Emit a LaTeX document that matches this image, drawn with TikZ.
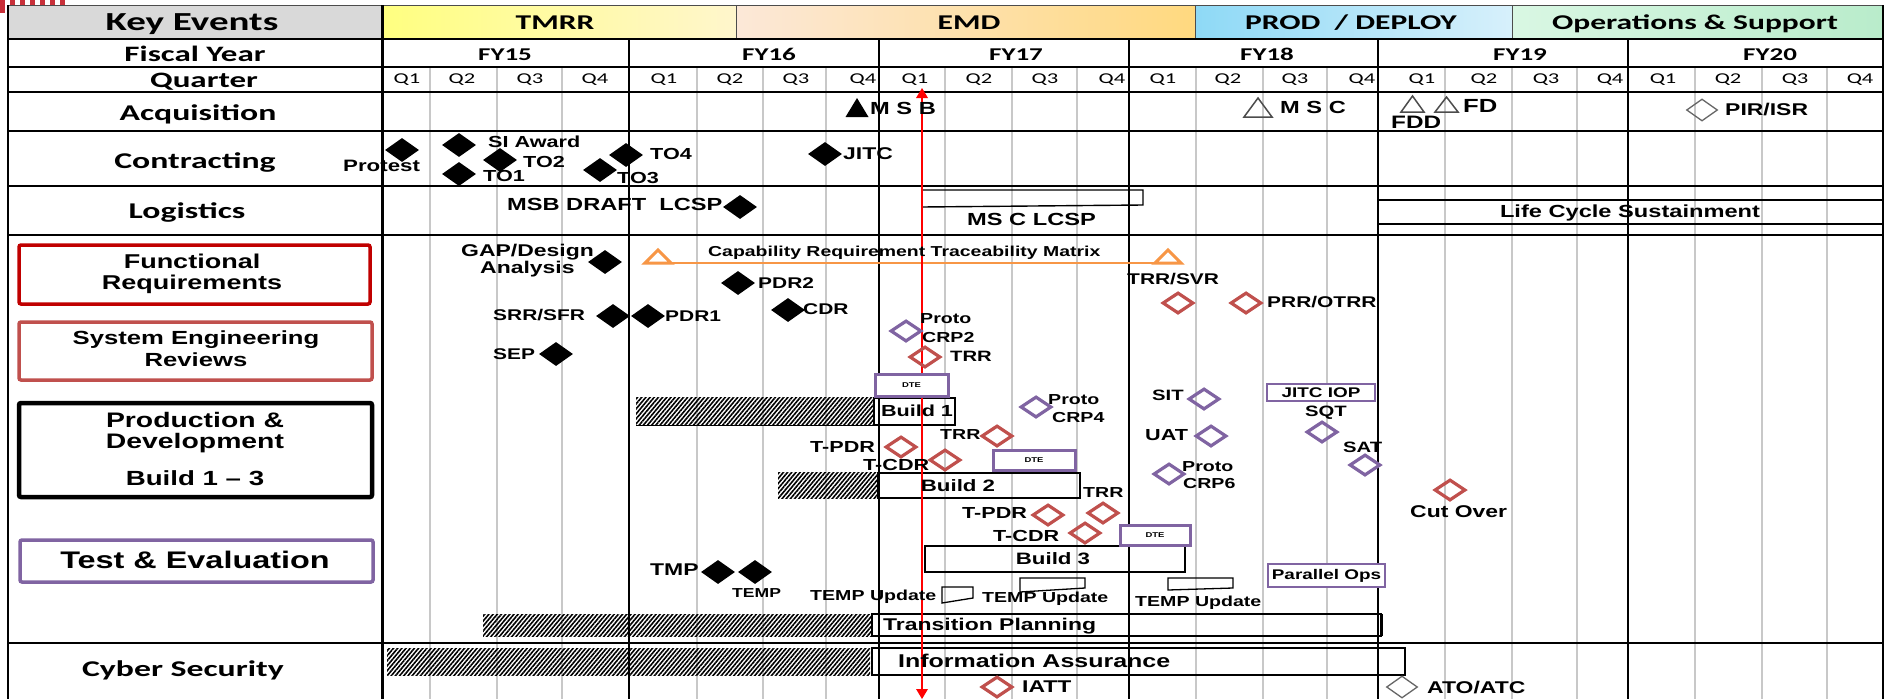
\documentclass[tikz,border=0pt]{standalone}
\usepackage{fontspec}
\setmainfont{Liberation Sans}[FakeStretch=1.35]
\newfontfamily\calb{Carlito}[FakeStretch=1.5]
\usetikzlibrary{shapes.geometric,patterns.meta}
\definecolor{redc}{HTML}{C0504D}
\definecolor{dkred}{HTML}{C00000}
\definecolor{purc}{HTML}{8064A2}
\definecolor{orgc}{HTML}{F79646}
\definecolor{qgray}{HTML}{C8C8C8}
\definecolor{hdrgray}{HTML}{D9D9D9}
\definecolor{tmrrL}{HTML}{FFFF80}
\definecolor{tmrrR}{HTML}{FFF6CC}
\definecolor{emdL}{HTML}{FCE8D8}
\definecolor{emdR}{HTML}{FFD97F}
\definecolor{prodL}{HTML}{8ED9F6}
\definecolor{prodR}{HTML}{D7F0FB}
\definecolor{opsL}{HTML}{D9F7E3}
\definecolor{opsR}{HTML}{B9ECCB}
\definecolor{flagred}{HTML}{C8303A}
\tikzset{
  tl/.style={font=\bfseries\fontsize{#1}{#1}\selectfont, inner sep=0pt, anchor=mid west, yshift=-0.17*#1pt},
  tl/.default=15.5,
  cl/.style={font=\calb\bfseries\fontsize{#1}{#1}\selectfont, inner sep=0pt, anchor=mid, yshift=-0.23*#1pt},
  ql/.style={font=\calb\fontsize{15}{15}\selectfont, inner sep=0pt, anchor=mid, yshift=-2.5pt},
  bd/.style={diamond, fill=black, minimum width=34pt, minimum height=24pt, inner sep=0pt},
  rdm/.style={diamond, draw=redc, line width=3.2pt, minimum width=31pt, minimum height=21pt, inner sep=0pt},
  pdm/.style={diamond, draw=purc, line width=3.2pt, minimum width=31pt, minimum height=21pt, inner sep=0pt},
  gdm/.style={diamond, draw=black!60, line width=1.3pt, minimum width=31pt, minimum height=22pt, inner sep=0pt},
  hatch/.style={pattern={Lines[angle=50,distance=3.2pt,line width=1.6pt]}},
  bx/.style={draw=black, line width=1.4pt},
  dtebox/.style={draw=purc, line width=3pt, fill=white},
  pbox/.style={draw=purc, line width=2pt, fill=white},
  hcell/.style={draw=black!70, line width=1pt},
}
\begin{document}
\begin{tikzpicture}[x=1pt,y=-1pt]
\useasboundingbox (0,0) rectangle (1889,699);
\fill[white] (0,0) rectangle (1889,699);

% ---------- logo remnant ----------
\foreach \i in {0,...,6}
  \fill[flagred] (\i*10,0) rectangle (\i*10+5,13);

% ---------- header ----------
\path[hcell, fill=hdrgray] (8,5) rectangle (382,39);
\path[hcell, left color=tmrrL, right color=tmrrR] (382,5) rectangle (736,39);
\path[hcell, left color=emdL, right color=emdR] (736,5) rectangle (1195,39);
\path[hcell, left color=prodL, right color=prodR] (1195,5) rectangle (1512,39);
\path[hcell, left color=opsL, right color=opsR] (1512,5) rectangle (1883,39);
\node[cl=26] (hKey) at (192,22) {Key Events};
\node[cl=21] (hTMRR) at (555,22) {TMRR};
\node[cl=21] (hEMD) at (969,22) {EMD};
\node[cl=21] (hPROD) at (1351,22) {PROD\ \ / DEPLOY};
\node[cl=21] (hOPS) at (1695,22) {Operations \& Support};

% ---------- grid ----------
\foreach \x in {430,497,562,697,763,826,945,1012,1077,1196,1263,1327,1445,1512,1577,1695,1762,1827}
  \draw[qgray, line width=1.8pt] (\x,67) -- (\x,699);
\foreach \y in {67,92,131,186,235,643}
  \draw[line width=1.2pt] (8,\y) -- (1883,\y);
\foreach \x in {629,879,1129,1378,1628}
  \draw[line width=1.8pt] (\x,39) -- (\x,699);
\draw[line width=3pt] (382,5) -- (382,699);
\draw[line width=2.5pt] (8,5) -- (8,699);
\draw[line width=2pt] (1883,5) -- (1883,699);
\draw[line width=2.5pt] (8,39) -- (1883,39);

% ---------- row labels ----------
\node[cl=22] (lFY) at (195,54) {Fiscal Year};
\node[cl=22] (lQ) at (204,80) {Quarter};
\node[cl=22.5] (lAcq) at (198,113) {Acquisition};
\node[cl=22.5] (lCon) at (195,161) {Contracting};
\node[cl=22.5] (lLog) at (187,211) {Logistics};
\node[cl=22.5] (lCyb) at (183,669) {Cyber Security};

\draw[draw=dkred, line width=3.5pt, rounded corners=2pt] (19,245) rectangle (370,304);
\node[tl=20, anchor=mid] (lFR1) at (192,262) {Functional};
\node[tl=20, anchor=mid] (lFR2) at (192,283) {Requirements};
\draw[draw=redc, line width=3.5pt, rounded corners=2pt] (19,322) rectangle (372,380);
\node[tl=19, anchor=mid] (lSE1) at (196,339) {System Engineering};
\node[tl=19, anchor=mid] (lSE2) at (196,361) {Reviews};
\draw[draw=black, line width=4.5pt, rounded corners=2pt] (19,403) rectangle (372,497);
\node[tl=21, anchor=mid] (lPD1) at (195,421) {Production \&};
\node[tl=21, anchor=mid] (lPD2) at (195,442) {Development};
\node[tl=20.5, anchor=mid] (lPD3) at (195,479) {Build 1 -- 3};
\draw[draw=purc, line width=3.5pt, rounded corners=2pt] (20,540) rectangle (373,582);
\node[tl=24, anchor=mid] (lTE) at (195,562) {Test \& Evaluation};

% ---------- fiscal years and quarters ----------
\node[cl=18] (fy15) at (505,54) {FY15};
\node[cl=18] (fy16) at (769,54) {FY16};
\node[cl=18] (fy17) at (1016,54) {FY17};
\node[cl=18] (fy18) at (1267,54) {FY18};
\node[cl=18] (fy19) at (1520,54) {FY19};
\node[cl=18] (fy20) at (1770,54) {FY20};
\foreach \x/\q [count=\i] in {407/1,462/2,530/3,595/4,664/1,730/2,796/3,863/4,915/1,979/2,1045/3,1112/4,1163/1,1228/2,1295/3,1362/4,1422/1,1484/2,1546/3,1610/4,1663/1,1728/2,1795/3,1860/4}
  \node[ql] (q\i) at (\x,78) {Q\q};

% ---------- boxes and bars ----------
\path[hatch] (636,397) rectangle (874,425);
\draw[line width=1pt] (636,425) -- (874,425);
\draw[bx] (874,398) rectangle (955,425);
\path[hatch] (778,472) rectangle (878,498);
\draw[bx] (878,473) rectangle (1080,498);
\draw[bx] (925,546) rectangle (1185,572);
\path[hatch] (483,614) rectangle (872,636);
\draw[bx] (872,614) rectangle (1381,636);
\draw[line width=3pt] (1381,614) -- (1381,636);
\path[hatch] (387,648) rectangle (870,675);
\draw[bx] (872,648) rectangle (1405,675);
\draw[bx] (922,190) -- (1143,190) -- (1143,205) -- (922,207) -- cycle;
\draw[bx] (1378,200) rectangle (1883,224);
\draw[line width=1.3pt] (942,587) -- (973,587) -- (973,598) -- (942,603) -- cycle;
\draw[line width=1.3pt] (1020,578) -- (1085,578) -- (1085,588) -- (1020,592) -- cycle;
\draw[line width=1.3pt] (1168,578) -- (1233,578) -- (1233,588) -- (1168,590) -- cycle;

% orange traceability line
\draw[orgc, line width=2pt] (658,263) -- (1168,263);
\draw[orgc, line width=3pt, fill=white, line join=miter] (645,263) -- (671,263) -- (658,250) -- cycle;
\draw[orgc, line width=3pt, fill=white, line join=miter] (1155,263) -- (1181,263) -- (1168,250) -- cycle;

% red today line
\draw[red, line width=2.6pt] (922,95) -- (922,692);
\fill[red] (916,98) -- (928,98) -- (922,88) -- cycle;
\fill[red] (916,689) -- (928,689) -- (922,699) -- cycle;

% DTE boxes
\node[dtebox, minimum width=73pt, minimum height=22pt, inner sep=0pt, font=\bfseries\fontsize{7}{7}\selectfont] (dte1) at (911.5,385) {DTE};
\node[dtebox, minimum width=82pt, minimum height=20pt, inner sep=0pt, font=\bfseries\fontsize{7}{7}\selectfont] (dte2) at (1034,460) {DTE};
\node[dtebox, minimum width=70pt, minimum height=20pt, inner sep=0pt, font=\bfseries\fontsize{7}{7}\selectfont] (dte3) at (1155,535) {DTE};
\node[pbox, minimum width=108pt, minimum height=17pt, inner sep=0pt, font=\bfseries\fontsize{14}{14}\selectfont] (jitciop) at (1321,392.5) {JITC IOP};
\node[pbox, minimum width=117pt, minimum height=23pt, inner sep=0pt, font=\bfseries\fontsize{14}{14}\selectfont] (parops) at (1326.5,575.5) {Parallel Ops};

% ---------- acquisition ----------
\fill (845.5,117) -- (868.5,117) -- (857,98) -- cycle;
\node[tl=17.5] (msb) at (870,109) {M S B};
\draw[black!70, line width=1.5pt] (1244,117) -- (1272,117) -- (1258,98) -- cycle;
\node[tl=17.5] (msc) at (1280,108) {M S C};
\draw[black!70, line width=1.5pt] (1401,112) -- (1424,112) -- (1412.5,96) -- cycle;
\node[tl=18] (fdd) at (1391,123) {FDD};
\draw[black!70, line width=1.5pt] (1435,112) -- (1458,112) -- (1446.5,97) -- cycle;
\node[tl=19] (fd) at (1463,107) {FD};
\node[gdm] (pirD) at (1702,110) {};
\node[tl=17] (pir) at (1725,110) {PIR/ISR};

% ---------- contracting ----------
\node[bd] (dProt) at (402,150) {};
\node[bd] (dSI) at (459,145) {};
\node[bd] (dTO1) at (459,174) {};
\node[bd] (dTO2) at (500,160) {};
\node[bd] (dTO3) at (600,170) {};
\node[bd] (dTO4) at (626,155) {};
\node[bd] (dJITC) at (825,154) {};
\node[tl=16.5] (tProt) at (343,166) {Protest};
\node[tl=16] (tSI) at (488,142) {SI Award};
\node[tl=16] (tTO2) at (523,162) {TO2};
\node[tl=16] (tTO1) at (483,176) {TO1};
\node[tl=16] (tTO3) at (617,178) {TO3};
\node[tl=16] (tTO4) at (650,154) {TO4};
\node[tl=17] (tJITC) at (843,154) {JITC};

% ---------- logistics ----------
\node[tl=17.5] (tMSB) at (507,205) {MSB DRAFT\ \ LCSP};
\node[bd] (dLCSP) at (740,207) {};
\node[tl=17.5] (tMSC) at (967,220) {MS C LCSP};
\node[tl=17.5, anchor=mid] (tLCS) at (1630,212) {Life Cycle\ Sustainment};

% ---------- functional / SE reviews ----------
\node[tl=17] (tGAP1) at (461,251) {GAP/Design};
\node[tl=17] (tGAP2) at (480,268) {Analysis};
\node[bd] (dGAP) at (605,262) {};
\node[tl=14.4] (tCRTM) at (708,251) {Capability Requirement Traceability Matrix};
\node[bd] (dPDR2) at (738,283) {};
\node[tl=15.5] (tPDR2) at (758,283) {PDR2};
\node[tl=15.5] (tSRR) at (493,315) {SRR/SFR};
\node[bd] (dSRR) at (613,316) {};
\node[bd] (dPDR1) at (648,316) {};
\node[tl=15.5] (tPDR1) at (665,316) {PDR1};
\node[bd] (dCDR) at (788,310) {};
\node[tl=15.5] (tCDR) at (803,309) {CDR};
\node[tl=15.5] (tSEP) at (493,354) {SEP};
\node[bd] (dSEP) at (556,354) {};
\node[pdm] (dCRP2) at (906,331) {};
\node[tl=14.5] (tCRP2a) at (920,318) {Proto};
\node[tl=14.5] (tCRP2b) at (922,337) {CRP2};
\node[rdm] (dTRR1) at (925,357) {};
\node[tl=15] (tTRR1) at (950,356) {TRR};
\node[tl=15.5] (tTRRSVR) at (1127,279) {TRR/SVR};
\node[rdm] (dTRRSVR) at (1178,303) {};
\node[rdm] (dPRR) at (1246,303) {};
\node[tl=15.5] (tPRR) at (1267,302) {PRR/OTRR};

% ---------- production & development ----------
\node[tl=16, anchor=mid] (tB1) at (917,411) {Build 1};
\node[pdm] (dCRP4) at (1036,407) {};
\node[tl=14.5] (tCRP4a) at (1048,399) {Proto};
\node[tl=14.5] (tCRP4b) at (1052,417) {CRP4};
\node[tl=14.5] (tTRR2) at (940,434) {TRR};
\node[rdm] (dTRR2) at (997,436) {};
\node[tl=16] (tTPDR1) at (810,447) {T-PDR};
\node[rdm] (dTPDR1) at (901,447) {};
\node[tl=16] (tTCDR1) at (863,465) {T-CDR};
\node[rdm] (dTCDR1) at (945,460) {};
\node[tl=16.5, anchor=mid] (tB2) at (958,486) {Build 2};
\node[tl=14.5] (tTRR3) at (1083,492) {TRR};
\node[rdm] (dTRR3) at (1103,513) {};
\node[tl=16] (tTPDR2) at (962,513) {T-PDR};
\node[rdm] (dTPDR2) at (1048,515) {};
\node[tl=16] (tTCDR2) at (993,536) {T-CDR};
\node[rdm] (dTCDR2) at (1085,533) {};
\node[tl=16.5, anchor=mid] (tB3) at (1053,559) {Build 3};
\node[tl=15] (tSIT) at (1152,395) {SIT};
\node[pdm] (dSIT) at (1204,399) {};
\node[tl=16] (tUAT) at (1145,435) {UAT};
\node[pdm] (dUAT) at (1211,436) {};
\node[pdm] (dCRP6) at (1169,474) {};
\node[tl=14.5] (tCRP6a) at (1182,466) {Proto};
\node[tl=14.5] (tCRP6b) at (1183,483) {CRP6};
\node[tl=15] (tSQT) at (1305,411) {SQT};
\node[pdm] (dSQT) at (1322,432) {};
\node[tl=15] (tSAT) at (1343,447) {SAT};
\node[pdm] (dSAT) at (1365,465) {};
\node[rdm] (dCut) at (1450,490) {};
\node[tl=17] (tCut) at (1410,512) {Cut Over};

% ---------- test & evaluation ----------
\node[tl=17] (tTMP) at (650,570) {TMP};
\node[bd] (dTMP) at (718,572) {};
\node[bd] (dTEMP) at (755,572) {};
\node[tl=13] (tTEMP) at (732,593) {TEMP};
\node[tl=14.5] (tTU1) at (810,595) {TEMP Update};
\node[tl=14.5] (tTU2) at (982,597) {TEMP Update};
\node[tl=14.5] (tTU3) at (1135,601) {TEMP Update};
\node[tl=17] (tTP) at (883,625) {Transition Planning};

% ---------- cyber security ----------
\node[tl=18.5] (tIA) at (898,662) {Information Assurance};
\node[rdm] (dIATT) at (997,687) {};
\node[tl=17] (tIATT) at (1022,687) {IATT};
\node[gdm] (dATO) at (1402,687) {};
\node[tl=17] (tATO) at (1427,688) {ATO/ATC};
\end{tikzpicture}
\end{document}
